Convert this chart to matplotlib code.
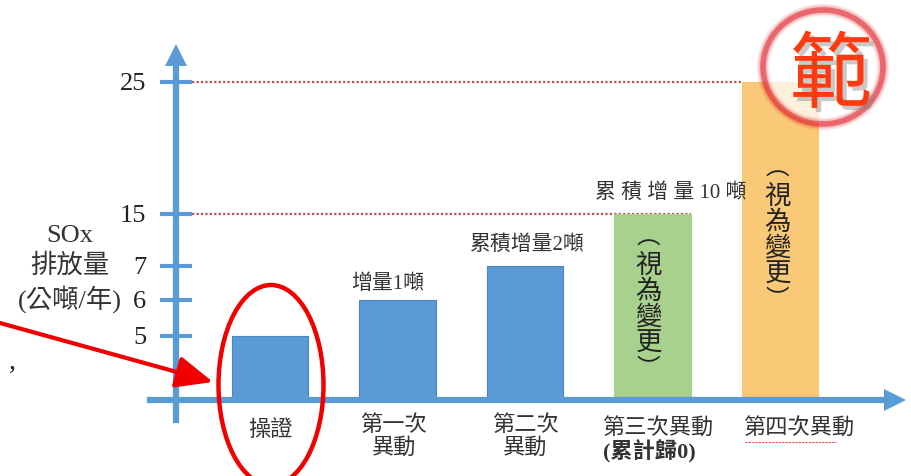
import numpy as np
import matplotlib
matplotlib.use("Agg")
import matplotlib.pyplot as plt
import matplotlib.patheffects as pe
from matplotlib.patches import Ellipse

plt.rcParams['font.family'] = ['Liberation Serif', 'Noto Sans CJK TC', 'DejaVu Sans']

# data
categories = ["操證", "第一次\n異動", "第二次\n異動", "第三次異動", "第四次異動"]
sub_label = "(累計歸0)"
sox = [5, 6, 7, 15, 25]
tick_vals = [5, 6, 7, 15, 25]
bar_notes = ["", "增量1噸", "累積增量2噸", "累 積 增 量 10 噸", ""]
vertical_note = "視為變更"

BLUE = "#5B9BD5"
bar_colors = [BLUE, BLUE, BLUE, "#A9D18E", "#F9C978"]
edge_colors = ["#4A86BF", "#4A86BF", "#4A86BF", "#A9D18E", "#F9C978"]

# broken (piecewise linear) value axis, like the hand drawn slide
y_knots = [-10, 0, 5, 6, 7, 15, 25, 35]
px_knots = [-128, 0, 64, 100, 134, 186, 318, 450]


def fwd(v):
    return np.interp(v, y_knots, px_knots)


def inv(p):
    return float(np.interp(p, px_knots, y_knots))


PX = 127.5   # pixels per category
X0 = 270     # pixel of first category
W, H = 912, 476

fig = plt.figure(figsize=(9.12, 4.76), dpi=100)
ax = fig.add_axes([0, 0, 1, 1])
ax.set_yscale('function', functions=(fwd, inv))
ax.set_xlim(-X0 / PX, (W - X0) / PX)
ax.set_ylim(inv(-76), inv(400))

x = np.arange(len(sox))
ax.bar(x, sox, width=0.6, color=bar_colors, edgecolor=edge_colors, linewidth=0.8, zorder=2)

# axes drawn as thick blue arrows
yaxis_x = (176 - X0) / PX
for s in ["top", "right"]:
    ax.spines[s].set_visible(False)
ax.spines["left"].set_position(("data", yaxis_x))
ax.spines["left"].set_bounds(inv(-20), inv(336))
ax.spines["bottom"].set_position(("data", 0))
ax.spines["bottom"].set_bounds((150 - X0) / PX, (888 - X0) / PX)
for s in ["left", "bottom"]:
    ax.spines[s].set_color(BLUE)
    ax.spines[s].set_linewidth(4.5)
    ax.spines[s].set_zorder(3)
ax.plot(yaxis_x, inv(345), marker="^", ms=16, color=BLUE, mew=0, zorder=3, clip_on=False)
ax.plot((895 - X0) / PX, 0, marker=">", ms=16, color=BLUE, mew=0, zorder=3, clip_on=False)

ax.set_xticks([])
ax.set_yticks(tick_vals)
ax.set_yticklabels([str(t) for t in tick_vals])
ax.tick_params(axis="y", direction="inout", length=23, width=3, color=BLUE, pad=10,
               labelsize=19, labelcolor="#222222")
ax.yaxis.set_minor_locator(matplotlib.ticker.NullLocator())

# dotted reference lines
ax.hlines(25, (192 - X0) / PX, 4 - 0.3, colors="#C0504D", linestyles=(0, (1, 1)), lw=1.6, zorder=1)
ax.hlines(15, (192 - X0) / PX, 3 + 0.3, colors="#C0504D", linestyles=(0, (1, 1)), lw=1.6, zorder=1)

# y label
ax.text((70 - X0) / PX, inv(131), "SOx\n排放量\n(公噸/年)", ha="center", va="center",
        fontsize=19, linespacing=1.32, color="#333333")

# category labels
lab_kw = dict(ha="center", va="center", fontsize=16, color="#333333", linespacing=1.1)
ax.text(0, inv(-30), categories[0], **lab_kw)
ax.text(1 - 0.03, inv(-37), categories[1], **lab_kw)
ax.text(2, inv(-37), categories[2], **lab_kw)
ax.text(3 + 0.04, inv(-28), categories[3], **lab_kw)
ax.text((603 - X0) / PX, inv(-52), sub_label, ha="left", va="center", fontsize=16,
        fontweight="bold", color="#333333")
ax.text(4 + 0.15, inv(-28), categories[4], **lab_kw)
ax.hlines(inv(-42), (745 - X0) / PX, (836 - X0) / PX, colors="#E05050", lw=0.8,
          linestyles=(0, (2, 1)))

# notes above bars
note_off = [(0, 0), (-10, 16), (2, 21), (18, 21), (0, 0)]
for i, note in enumerate(bar_notes):
    if note:
        ax.annotate(note, (x[i], sox[i]), xytext=note_off[i], textcoords="offset pixels",
                    ha="center", va="center", fontsize=15, color="#333333")


# vertical "(視為變更)" inside bars 4 and 5, one glyph at a time
def vertical_text(xc, top_px):
    vk = dict(ha="center", va="center", color="#222222", zorder=4, family="Noto Sans CJK TC")
    y_ref = inv(400 - top_px)
    ax.annotate("︵", (xc, y_ref), xytext=(0, -6), textcoords="offset pixels", fontsize=17, **vk)
    for k, ch in enumerate(vertical_note):
        ax.annotate(ch, (xc, y_ref), xytext=(0, -33 - 26 * k), textcoords="offset pixels",
                    fontsize=19, **vk)
    ax.annotate("︶", (xc, y_ref), xytext=(0, -33 - 26 * 3 - 26), textcoords="offset pixels",
                fontsize=17, **vk)


vertical_text(3 - 0.03, 232)
vertical_text(4 - 0.02, 163)

# red circle + arrow pointing to the permit bar
fig.patches.append(Ellipse((271 / W, 1 - 385 / H), 105 / W, 200 / H, transform=fig.transFigure,
                           fill=False, ec="#F00000", lw=3.2, zorder=5))
ax.annotate("", xy=(213, H - 382), xycoords="figure pixels", xytext=(0, H - 323),
            textcoords="figure pixels",
            arrowprops=dict(arrowstyle="-|>,head_length=1.5,head_width=0.65", color="#F00000",
                            lw=3, mutation_scale=15, shrinkA=0, shrinkB=0), zorder=5)
fig.text(12 / W, 1 - 362 / H, ",", fontsize=20, ha="center", va="center", color="#222222")

# "範" stamp
fig.patches.append(Ellipse((823 / W, 1 - 67 / H), 118 / W, 112 / H, transform=fig.transFigure,
                           fc="white", ec="none", alpha=0.75, zorder=5))
for lw, a in [(9, 0.10), (6.5, 0.2), (4, 0.55)]:
    fig.patches.append(Ellipse((823 / W, 1 - 67 / H), 120 / W, 114 / H, transform=fig.transFigure,
                               fill=False, ec="#E0202A", lw=lw, alpha=a, zorder=6))
fig.text(831 / W, 1 - 77 / H, "範", fontsize=60, ha="center", va="center", color="#FF3A10",
         family="Noto Sans CJK TC", fontweight="light", zorder=8,
         path_effects=[pe.SimplePatchShadow(offset=(3, -3), shadow_rgbFace="#888888", alpha=0.45),
                       pe.Normal()])

fig.savefig("out.png", dpi=100)
